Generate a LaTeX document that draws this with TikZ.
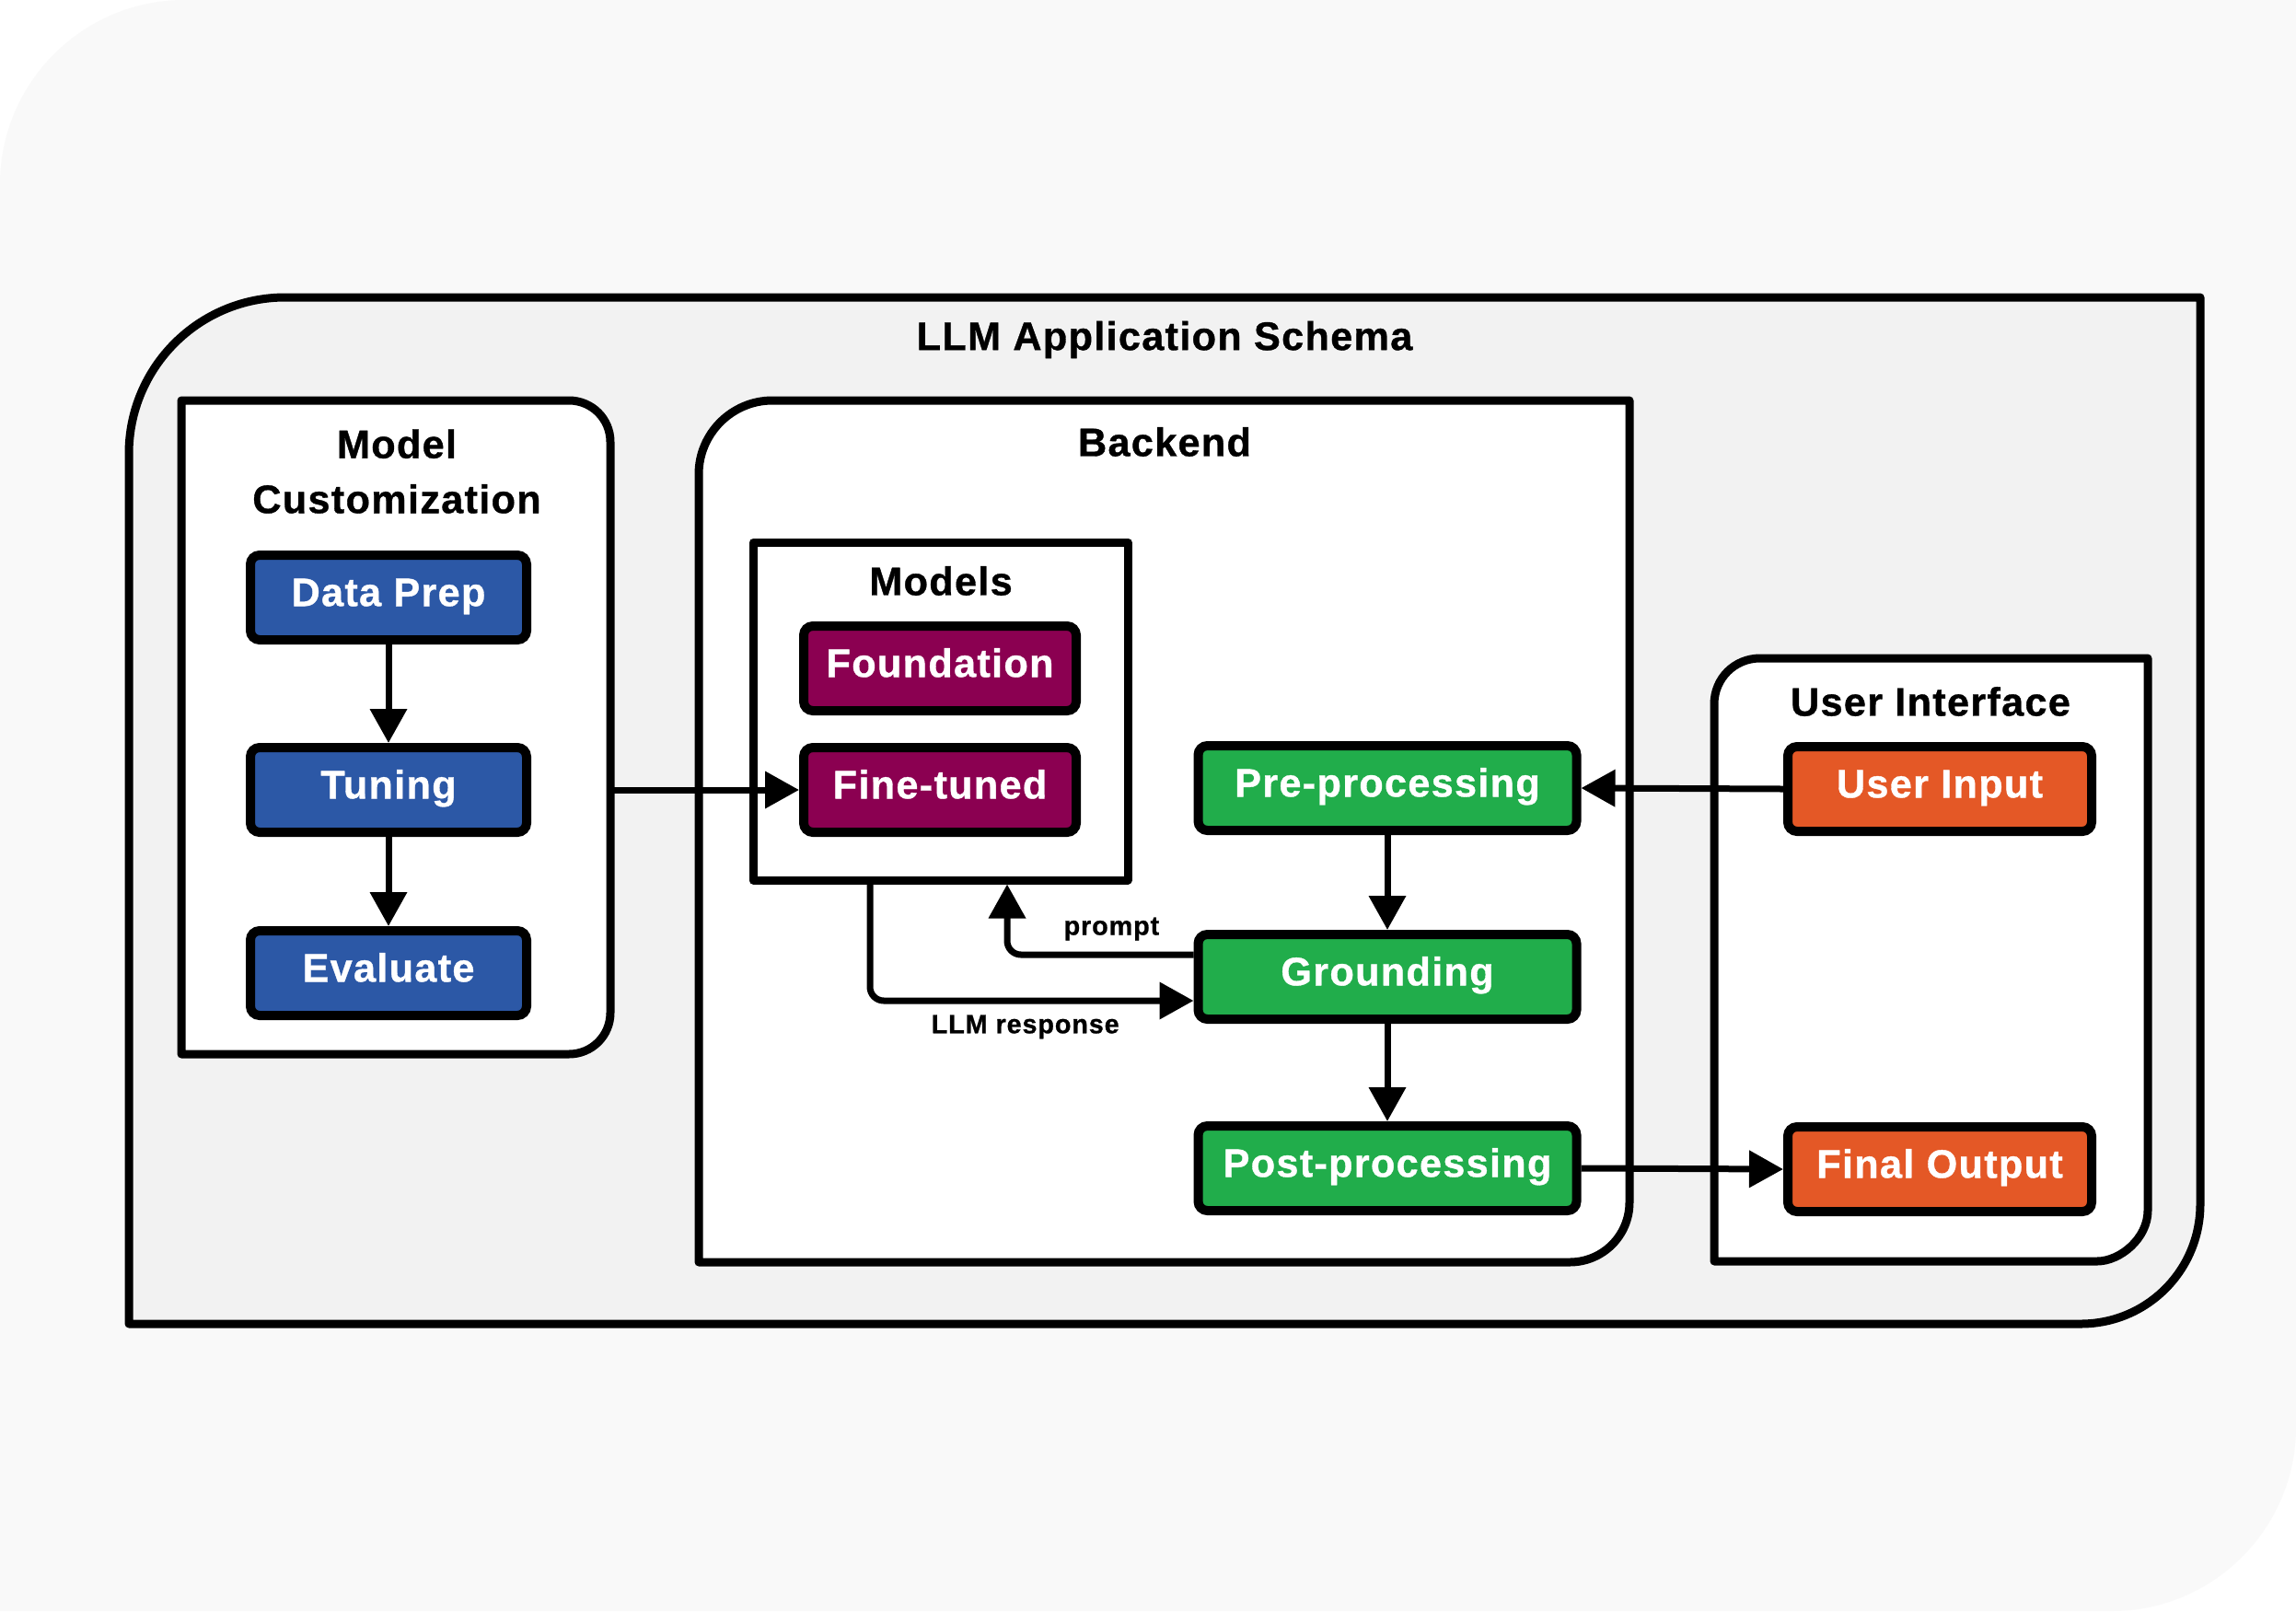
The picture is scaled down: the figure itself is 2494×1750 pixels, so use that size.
\documentclass[tikz,border=0pt]{standalone}
\usepackage{fontspec}
\setmainfont{Liberation Sans}[LetterSpace=3, BoldFeatures={FakeBold=0.8}]
\usetikzlibrary{arrows.meta,positioning}
\definecolor{pagebg}{HTML}{F9F9F9}
\definecolor{panelbg}{HTML}{F2F2F2}
\definecolor{custblue}{HTML}{2C58A6}
\definecolor{modelpurple}{HTML}{8B0051}
\definecolor{flowgreen}{HTML}{21AD4B}
\definecolor{uiorange}{HTML}{E45826}
\begin{document}
\begin{tikzpicture}[x=0.1mm, y=-0.1mm,
    block/.style={rectangle, draw, line width=1mm, rounded corners=1mm, text=white,
        font=\fontsize{12.3}{14}\selectfont\bfseries, minimum height=9.2mm,
        text height=0.73em, text depth=0.2em, inner sep=0pt},
    custbox/.style={block, fill=custblue, minimum width=30mm},
    modelbox/.style={block, fill=modelpurple, minimum width=29.6mm},
    flowbox/.style={block, fill=flowgreen, minimum width=41.1mm},
    uibox/.style={block, fill=uiorange, minimum width=33mm},
    title/.style={font=\fontsize{12.3}{17}\selectfont\bfseries, align=center},
    lbl/.style={font=\fontsize{8.2}{9}\selectfont\bfseries, inner sep=1.2mm},
    arr/.style={-{Triangle[length=3.7mm, width=3.9mm]}, line width=0.7mm},
    panel/.style={draw, line width=0.9mm, line join=round}]
    \useasboundingbox (0,0) rectangle (2494,1750);

    % Page
    \fill[white] (0,0) rectangle (2494,1750);
    \fill[pagebg] (0,1750) -- (0,200) .. controls (0,90) and (90,0) .. (200,0)
        -- (2494,0) -- (2494,1550) .. controls (2494,1660) and (2404,1750) .. (2294,1750) -- cycle;

    % Outer panel
    \draw[panel, fill=panelbg] (140,1438) -- (140,493) .. controls (140,399) and (216,323) .. (310,323)
        -- (2390,323) -- (2390,1308) .. controls (2390,1380) and (2332,1438) .. (2260,1438) -- cycle;
    \node[title] (apptitle) at (1265,369) {LLM Application Schema};

    % Model customization
    \draw[panel, fill=white] (197,435) -- (618,435) .. controls (643,435) and (663,455) .. (663,480)
        -- (663,1100) .. controls (663,1125) and (643,1145) .. (618,1145) -- (197,1145) -- cycle;
    \node[title] (custtitle) at (431,512) {Model\\Customization};
    \node[custbox] (dataprep) at (422,649) {Data Prep};
    \node[custbox] (tuning) at (422,858) {Tuning};
    \node[custbox] (evaluate) at (422,1057) {Evaluate};
    \coordinate (custout) at (663,858);

    % Backend
    \draw[panel, fill=white] (759,1371) -- (759,515) .. controls (759,471) and (795,435) .. (839,435)
        -- (1770,435) -- (1770,1306) .. controls (1770,1342) and (1741,1371) .. (1705,1371) -- cycle;
    \node[title] (backtitle) at (1265,480) {Backend};
    \node[panel, fill=white, minimum width=40.7mm, minimum height=36.7mm] (models) at (1021.5,772.5) {};
    \node[title] (modelstitle) at (1022,631) {Models};
    \node[modelbox] (foundation) at (1021,726) {Foundation};
    \node[modelbox] (finetuned) at (1021,858) {Fine-tuned};
    \node[flowbox] (pre) at (1507,856) {Pre-processing};
    \node[flowbox] (ground) at (1507,1061) {Grounding};
    \node[flowbox] (post) at (1507,1269) {Post-processing};

    % User interface
    \draw[panel, fill=white] (1862,1370) -- (1862,765) .. controls (1862,737) and (1884,715) .. (1912,715)
        -- (2333,715) -- (2333,1315) .. controls (2333,1345) and (2303,1370) .. (2278,1370) -- cycle;
    \node[title] (uititle) at (2097,762) {User Interface};
    \node[uibox] (uinput) at (2107,857) {User Input};
    \node[uibox] (foutput) at (2107,1270) {Final Output};

    % Arrows
    \draw[arr] (dataprep) -- (tuning);
    \draw[arr] (tuning) -- (evaluate);
    \draw[arr] (custout) -- (finetuned.west);
    \draw[arr] (uinput.west) -- (pre.east);
    \draw[arr] (pre) -- (ground);
    \draw[arr] (ground) -- (post);
    \draw[arr] (post.east) -- (foutput.west);
    \draw[arr, rounded corners=1.5mm] ([yshift=2.4mm]ground.west) -| ([xshift=7.25mm]models.south)
        node[lbl, above, pos=0.22] (promptlbl) {prompt};
    \draw[arr, rounded corners=1.5mm] ([xshift=-7.65mm]models.south) |- ([yshift=-2.6mm]ground.west)
        node[lbl, below, pos=0.74] (resplbl) {LLM response};
\end{tikzpicture}
\end{document}
